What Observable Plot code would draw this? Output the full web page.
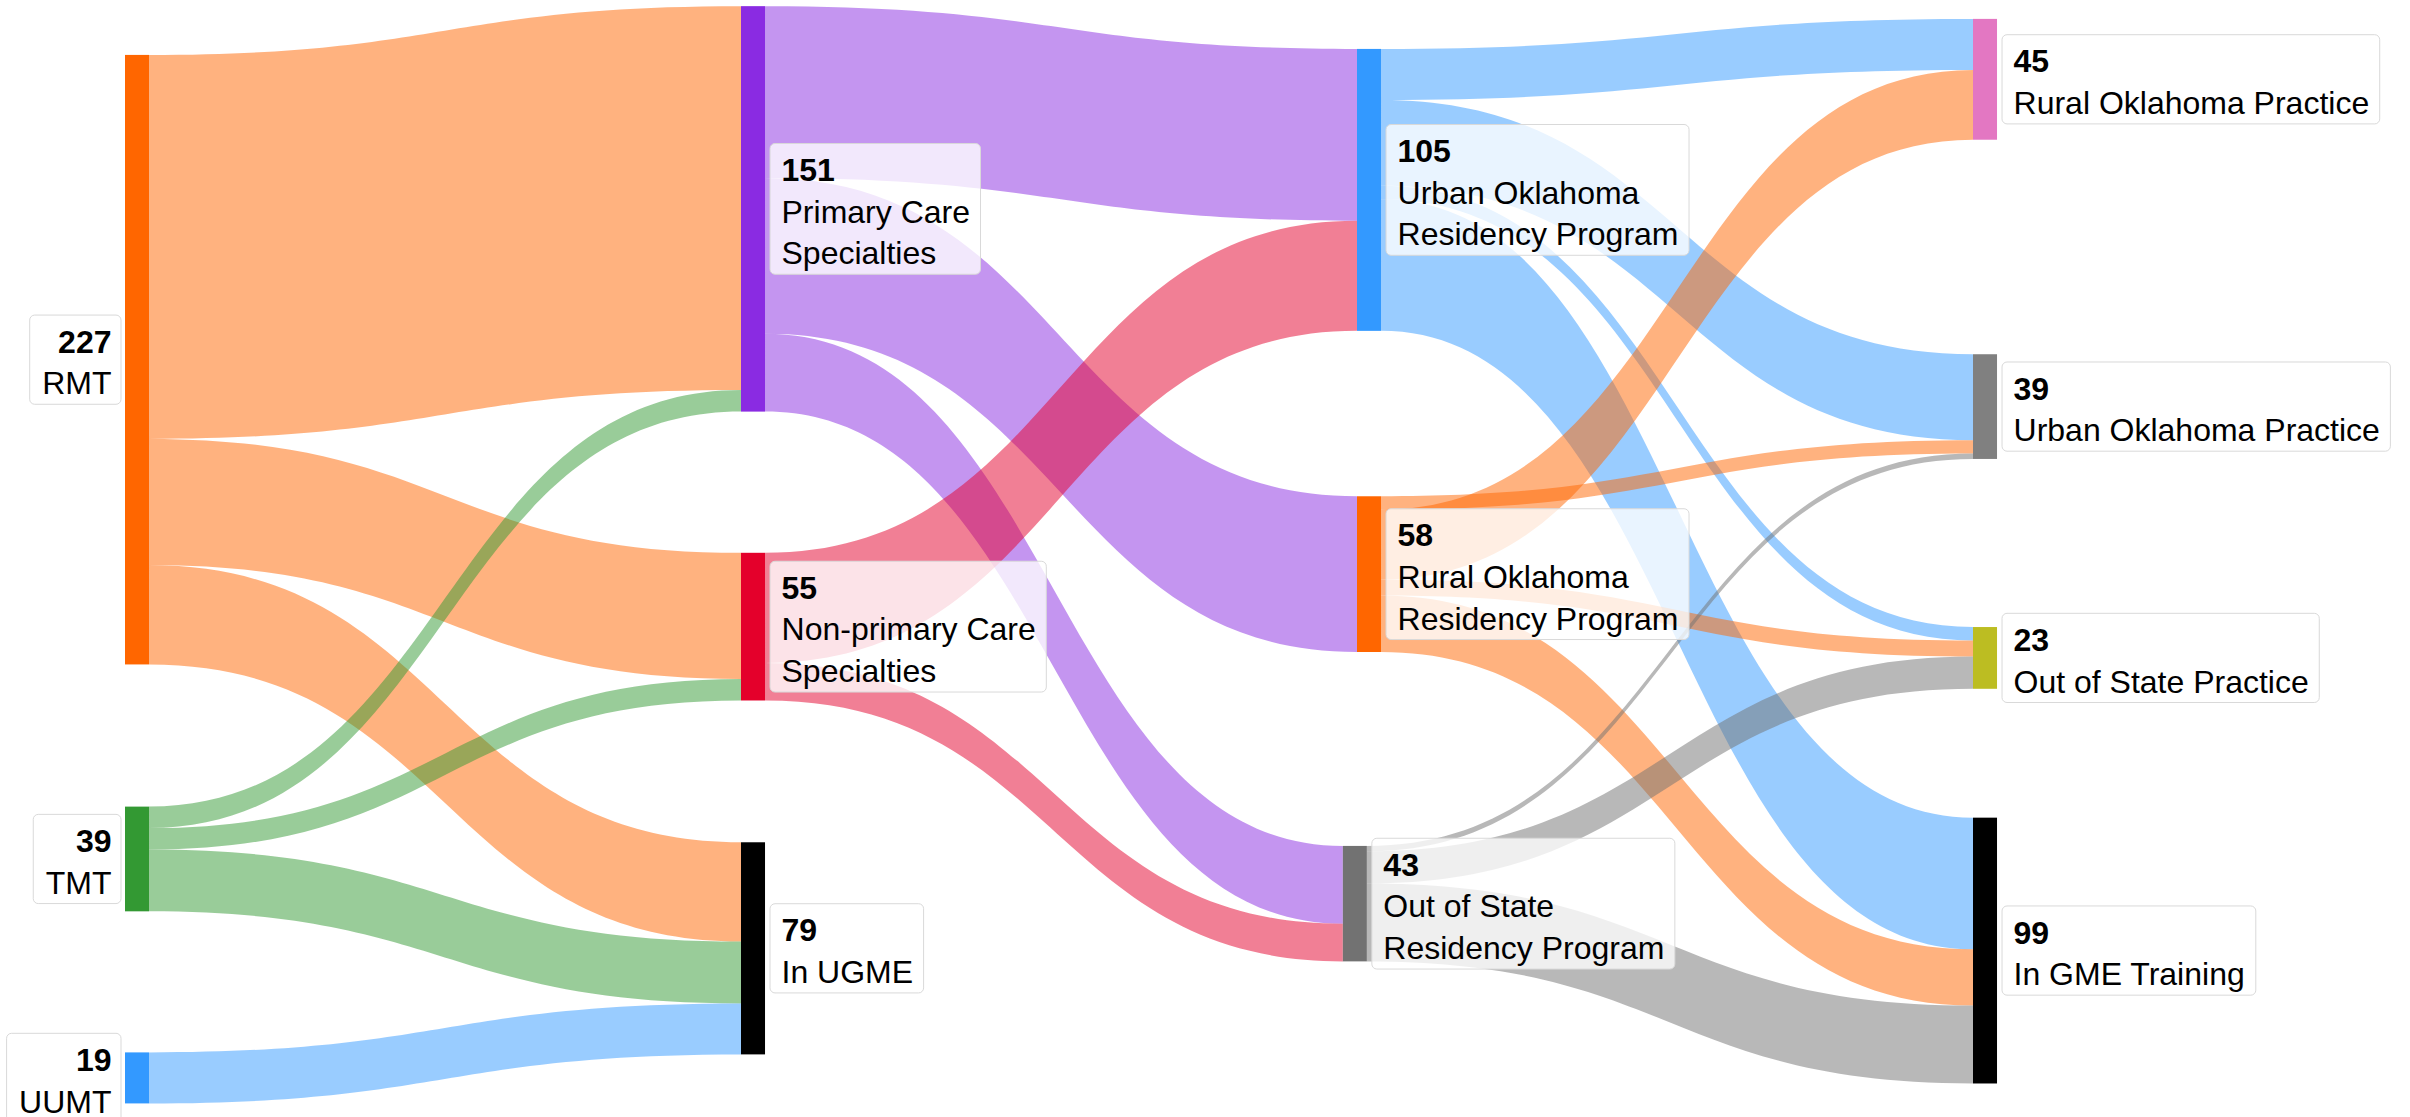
<!DOCTYPE html>
<html>
<head>
<meta charset="utf-8">
<script src="https://cdn.jsdelivr.net/npm/d3@7"></script>
<script src="https://cdn.jsdelivr.net/npm/@observablehq/plot@0.6"></script>
<style>
  html, body { margin: 0; padding: 0; background: #ffffff; }
  #chart svg { display: block; }
</style>
</head>
<body>
<div id="chart"></div>
<script>
// ---------- data ----------
const nodeLabels = [
  "RMT", "TMT", "UUMT",
  "Primary Care\nSpecialties", "Non-primary Care\nSpecialties", "In UGME",
  "Urban Oklahoma\nResidency Program", "Rural Oklahoma\nResidency Program", "Out of State\nResidency Program",
  "Rural Oklahoma Practice", "Urban Oklahoma Practice", "Out of State Practice", "In GME Training"
];
const nodeColors = [
  "#ff6600", "#339933", "#3399ff",
  "#8a2be2", "#e4002b", "#000000",
  "#3399ff", "#ff6600", "#727272",
  "#e377c2", "#808080", "#bcbd22", "#000000"
];
// node arrangement (like plotly node.x / node.y): column and vertical centre fraction
const nodeColumn = [0, 0, 0, 1, 1, 1, 2, 2, 1.977, 3, 3, 3, 3];
const nodeCenter = [0.322, 0.769, 0.965, 0.187, 0.561, 0.849, 0.170, 0.514, 0.809, 0.071, 0.364, 0.589, 0.851];

const linkSource = [0, 0, 0, 1, 1, 1, 2, 3, 3, 3, 4, 4, 6, 6, 6, 6, 7, 7, 7, 7, 8, 8, 8];
const linkTarget = [3, 4, 5, 3, 4, 5, 5, 6, 7, 8, 6, 8, 9, 10, 11, 12, 10, 9, 11, 12, 10, 11, 12];
const linkValue  = [143, 47, 37, 8, 8, 23, 19, 64, 58, 29, 41, 14, 19, 32, 5, 49, 5, 26, 6, 21, 2, 12, 29];

// ---------- layout ----------
const W = 2410, H = 1117;
const marginLeft = 125, marginRight = 437;
const yMax = 416;                 // chart height in people
const nodeW = 0.039;              // node width in column units
const kx = (W - marginLeft - marginRight) / 3;
const ky = H / yMax;
const fontFamily = "'Liberation Sans', Arial, Helvetica, sans-serif";
const fontSize = 32, lineH = 1.3 * fontSize;

const n = nodeLabels.length;
const inSum = new Array(n).fill(0), outSum = new Array(n).fill(0);
linkValue.forEach((v, i) => { outSum[linkSource[i]] += v; inSum[linkTarget[i]] += v; });
const nodes = nodeLabels.map((label, i) => {
  const value = Math.max(inSum[i], outSum[i]);
  const c = nodeCenter[i] * yMax;
  return {i, label, value, color: nodeColors[i], x0: nodeColumn[i], x1: nodeColumn[i] + nodeW,
          c, y0: c - value / 2, y1: c + value / 2, left: nodeColumn[i] === 0};
});

const links = linkValue.map((v, i) => ({i, s: linkSource[i], t: linkTarget[i], v}));
// stacking at source: listed order; at target: by source position
const srcOff = new Array(n).fill(0), tgtOff = new Array(n).fill(0);
links.forEach(l => { l.sy0 = nodes[l.s].y0 + srcOff[l.s]; srcOff[l.s] += l.v; });
[...links].sort((a, b) => nodes[a.s].c - nodes[b.s].c).forEach(l => {
  l.ty0 = nodes[l.t].y0 + tgtOff[l.t]; tgtOff[l.t] += l.v;
});
const linkPts = links.flatMap(l => [
  {id: l.i, x: nodes[l.s].x1, top: l.sy0, bot: l.sy0 + l.v, color: nodeColors[l.s]},
  {id: l.i, x: nodes[l.t].x0, top: l.ty0, bot: l.ty0 + l.v, color: nodeColors[l.s]}
]);

// label boxes
const canvas = document.createElement("canvas");
const ctx = canvas.getContext("2d");
function textW(s, bold) { ctx.font = `${bold ? "bold " : ""}${fontSize}px ${fontFamily}`; return ctx.measureText(s).width; }
const labels = nodes.map(d => {
  const lines = d.label.split("\n");
  const nl = lines.length + 1;
  const wmax = Math.max(textW(String(d.value), true), ...lines.map(s => textW(s, false)));
  const bw = (wmax + 22) / kx;
  const hh = (nl * lineH + 6) / 2 / ky;
  let bx1, bx2;
  if (d.left) { bx2 = d.x0 - 4 / kx; bx1 = bx2 - bw; }
  else { bx1 = d.x1 + 5 / kx; bx2 = bx1 + bw; }
  return {...d, bx1, bx2, by1: d.c - hh, by2: d.c + hh,
          numY: d.c - (nl - 1) / 2 * lineH / ky, nameY: d.c + lineH / 2 / ky,
          num: String(d.value)};
});
const leftLabels = labels.filter(d => d.left), rightLabels = labels.filter(d => !d.left);

const textCommon = {fontSize, fontFamily, fill: "black", lineAnchor: "middle", lineHeight: 1.3};

const chart = Plot.plot({
  width: W, height: H,
  marginLeft, marginRight, marginTop: 0, marginBottom: 0,
  x: {domain: [0, 3], axis: null},
  y: {domain: [0, yMax], reverse: true, axis: null},
  color: {type: "identity"},
  style: {background: "#ffffff"},
  marks: [
    Plot.area(linkPts, {x1: "x", y1: "top", y2: "bot", z: "id", fill: "color", fillOpacity: 0.5, curve: "bump-x"}),
    Plot.rect(nodes, {x1: "x0", x2: "x1", y1: "y0", y2: "y1", fill: "color"}),
    Plot.rect(labels, {x1: "bx1", x2: "bx2", y1: "by1", y2: "by2", fill: "white", fillOpacity: 0.78,
                       stroke: "#d9d9d9", strokeWidth: 1, rx: 5}),
    Plot.text(rightLabels, {x: "x1", y: "numY", text: "num", dx: 16, textAnchor: "start", fontWeight: "bold", ...textCommon}),
    Plot.text(rightLabels, {x: "x1", y: "nameY", text: "label", dx: 16, textAnchor: "start", ...textCommon}),
    Plot.text(leftLabels, {x: "x0", y: "numY", text: "num", dx: -14, textAnchor: "end", fontWeight: "bold", ...textCommon}),
    Plot.text(leftLabels, {x: "x0", y: "nameY", text: "label", dx: -14, textAnchor: "end", ...textCommon})
  ]
});
document.getElementById("chart").appendChild(chart);
</script>
</body>
</html>
